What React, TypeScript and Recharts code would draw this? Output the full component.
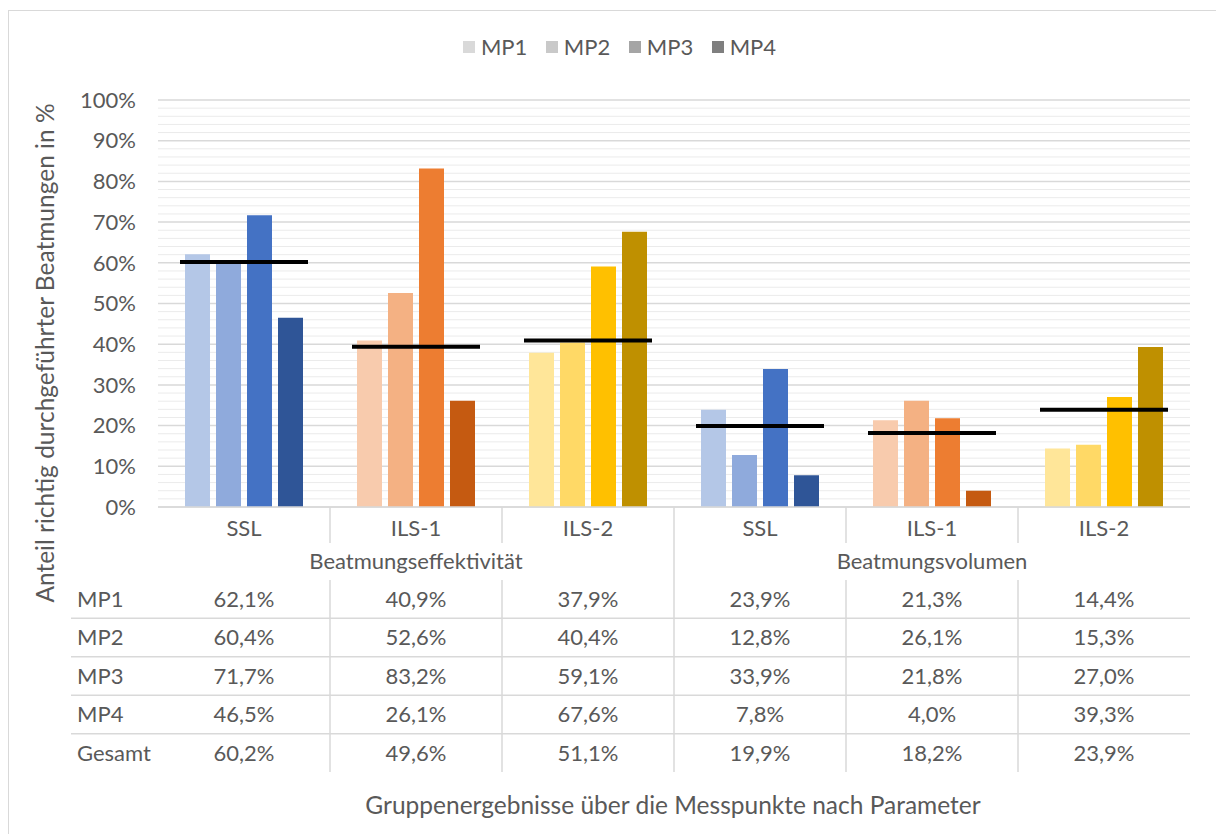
import React from 'react';
import { ComposedChart, Bar, Line, Cell, XAxis, YAxis, CartesianGrid } from 'recharts';

const categories = ['SSL', 'ILS-1', 'ILS-2', 'SSL', 'ILS-1', 'ILS-2'];
const groupLabels = ['Beatmungseffektivität', 'Beatmungsvolumen'];
const seriesNames = ['MP1', 'MP2', 'MP3', 'MP4'];
const mp1 = [62.1, 40.9, 37.9, 23.9, 21.3, 14.4];
const mp2 = [60.4, 52.6, 40.4, 12.8, 26.1, 15.3];
const mp3 = [71.7, 83.2, 59.1, 33.9, 21.8, 27.0];
const mp4 = [46.5, 26.1, 67.6, 7.8, 4.0, 39.3];
const gesamt = [60.2, 49.6, 51.1, 19.9, 18.2, 23.9];
// position of the black marker lines as drawn in the chart
const gesamtLine = [60.2, 39.4, 40.9, 19.9, 18.2, 23.9];
const yTicks = [0, 10, 20, 30, 40, 50, 60, 70, 80, 90, 100];

const legendColors = ['#d9d9d9', '#c9c9c9', '#a5a5a5', '#7f7f7f'];
const palette = [
  ['#b4c7e7', '#8faadc', '#4472c4', '#2f5597'],
  ['#f8cbad', '#f4b183', '#ed7d31', '#c55a11'],
  ['#ffe699', '#ffd966', '#ffc000', '#bf9000'],
];

const series = [mp1, mp2, mp3, mp4];
const tableRows = [...seriesNames, 'Gesamt'];
const tableValues = [mp1, mp2, mp3, mp4, gesamt];

const data = categories.map((cat, i) => ({
  cat,
  mp1: mp1[i],
  mp2: mp2[i],
  mp3: mp3[i],
  mp4: mp4[i],
  line: gesamtLine[i],
}));

const FONT = 'Lato, "Open Sans", sans-serif';
const TEXT = '#595959';
const GRID = '#d9d9d9';
const FS = 22;
const TITLE_FS = 24.5;

const W = 1207;
const H = 822;
const PLOT_LEFT = 149;
const PLOT_RIGHT = 1181;
const PLOT_TOP = 89;
const PLOT_BOTTOM = 496;
const BAND = (PLOT_RIGHT - PLOT_LEFT) / categories.length;
const ROW0 = 588;
const ROW_H = 38.5;

const minorTicks = Array.from({ length: 51 }, (_, i) => i * 2).filter((v) => v % 10 !== 0);

const fmt = (v: number) => v.toFixed(1).replace('.', ',') + '%';

const minorLines = ({ yAxis, offset }: any) =>
  minorTicks.map((v) =>
    yAxis && typeof yAxis.scale === 'function'
      ? yAxis.scale(v)
      : offset.top + offset.height * (1 - v / 100)
  );

const YTick = (props: any) => {
  const { y, payload } = props;
  return (
    <text x={PLOT_LEFT - 22} y={y} dy="0.35em" textAnchor="end" fill={TEXT} fontSize={FS} fontFamily={FONT}>
      {payload.value}%
    </text>
  );
};

const ColumnTick = (props: any) => {
  const { x, payload } = props;
  const i = props.index ?? payload.index;
  const left = x - BAND / 2;
  const tableTop = 569;
  const tableBottom = 761;
  return (
    <g fontFamily={FONT} fontSize={FS} fill={TEXT}>
      <text x={x} y={517} dy="0.35em" textAnchor="middle">
        {payload.value}
      </text>
      {i === 3 && <line x1={left} x2={left} y1={PLOT_BOTTOM} y2={tableBottom} stroke={GRID} strokeWidth={1.5} />}
      {i > 0 && i !== 3 && (
        <>
          <line x1={left} x2={left} y1={PLOT_BOTTOM} y2={532} stroke={GRID} strokeWidth={1.5} />
          <line x1={left} x2={left} y1={tableTop} y2={tableBottom} stroke={GRID} strokeWidth={1.5} />
        </>
      )}
      {(i === 1 || i === 4) && (
        <text x={x} y={550} dy="0.35em" textAnchor="middle">
          {groupLabels[i === 1 ? 0 : 1]}
        </text>
      )}
      {i === 0 &&
        tableRows.map((name, r) => (
          <g key={name}>
            <text x={68} y={ROW0 + r * ROW_H} dy="0.35em" textAnchor="start">
              {name}
            </text>
            {r > 0 && (
              <line
                x1={62}
                x2={PLOT_RIGHT}
                y1={ROW0 + r * ROW_H - ROW_H / 2}
                y2={ROW0 + r * ROW_H - ROW_H / 2}
                stroke={GRID}
                strokeWidth={1.5}
              />
            )}
          </g>
        ))}
      {tableValues.map((vals, r) => (
        <text key={r} x={x} y={ROW0 + r * ROW_H} dy="0.35em" textAnchor="middle">
          {fmt(vals[i])}
        </text>
      ))}
    </g>
  );
};

const GesamtMark = (props: any) => {
  const { cx, cy } = props;
  if (cx == null || cy == null) return null;
  return <line x1={cx - 64} x2={cx + 64} y1={cy} y2={cy} stroke="#000" strokeWidth={4} />;
};

export default function App() {
  return (
    <div
      style={{
        position: 'fixed',
        left: 8,
        top: 10,
        width: 1214,
        height: 830,
        border: '1px solid #d9d9d9',
        background: '#fff',
        fontFamily: FONT,
      }}
    >
      <div
        style={{
          position: 'absolute',
          top: 22,
          left: 0,
          width: W,
          display: 'flex',
          justifyContent: 'center',
          gap: 18.5,
          color: TEXT,
          fontSize: FS,
          marginLeft: 7,
        }}
      >
        {seriesNames.map((name, k) => (
          <div key={name} style={{ display: 'flex', alignItems: 'center', gap: 6 }}>
            <span style={{ width: 12, height: 12, background: legendColors[k], display: 'inline-block' }} />
            <span>{name}</span>
          </div>
        ))}
      </div>
      <ComposedChart
        width={W}
        height={H}
        data={data}
        margin={{ top: PLOT_TOP, right: W - PLOT_RIGHT, left: 0, bottom: 0 }}
        barGap={6}
        barSize={25}
      >
        <CartesianGrid
          vertical={false}
          horizontalCoordinatesGenerator={minorLines}
          stroke="#ebebeb"
          strokeWidth={1}
        />
        <CartesianGrid vertical={false} stroke={GRID} strokeWidth={1.5} />
        <XAxis
          dataKey="cat"
          height={H - PLOT_BOTTOM}
          interval={0}
          tickLine={false}
          axisLine={{ stroke: GRID, strokeWidth: 1.5 }}
          tick={<ColumnTick />}
        />
        <YAxis
          width={PLOT_LEFT}
          domain={[0, 100]}
          ticks={yTicks}
          axisLine={false}
          tickLine={false}
          tick={<YTick />}
        />
        {series.map((_, k) => (
          <Bar key={k} dataKey={`mp${k + 1}`} name={seriesNames[k]} fill={legendColors[k]} isAnimationActive={false}>
            {data.map((_, i) => (
              <Cell key={i} fill={palette[i % 3][k]} />
            ))}
          </Bar>
        ))}
        <Line
          dataKey="line"
          stroke="none"
          dot={<GesamtMark />}
          activeDot={false}
          legendType="none"
          isAnimationActive={false}
        />
        <text
          x={36}
          y={342}
          transform="rotate(-90 36 342)"
          textAnchor="middle"
          dy="0.35em"
          fill={TEXT}
          fontSize={TITLE_FS}
          fontFamily={FONT}
        >
          Anteil richtig durchgeführter Beatmungen in %
        </text>
        <text x={664} y={794} dy="0.35em" textAnchor="middle" fill={TEXT} fontSize={TITLE_FS} fontFamily={FONT}>
          Gruppenergebnisse über die Messpunkte nach Parameter
        </text>
      </ComposedChart>
    </div>
  );
}
